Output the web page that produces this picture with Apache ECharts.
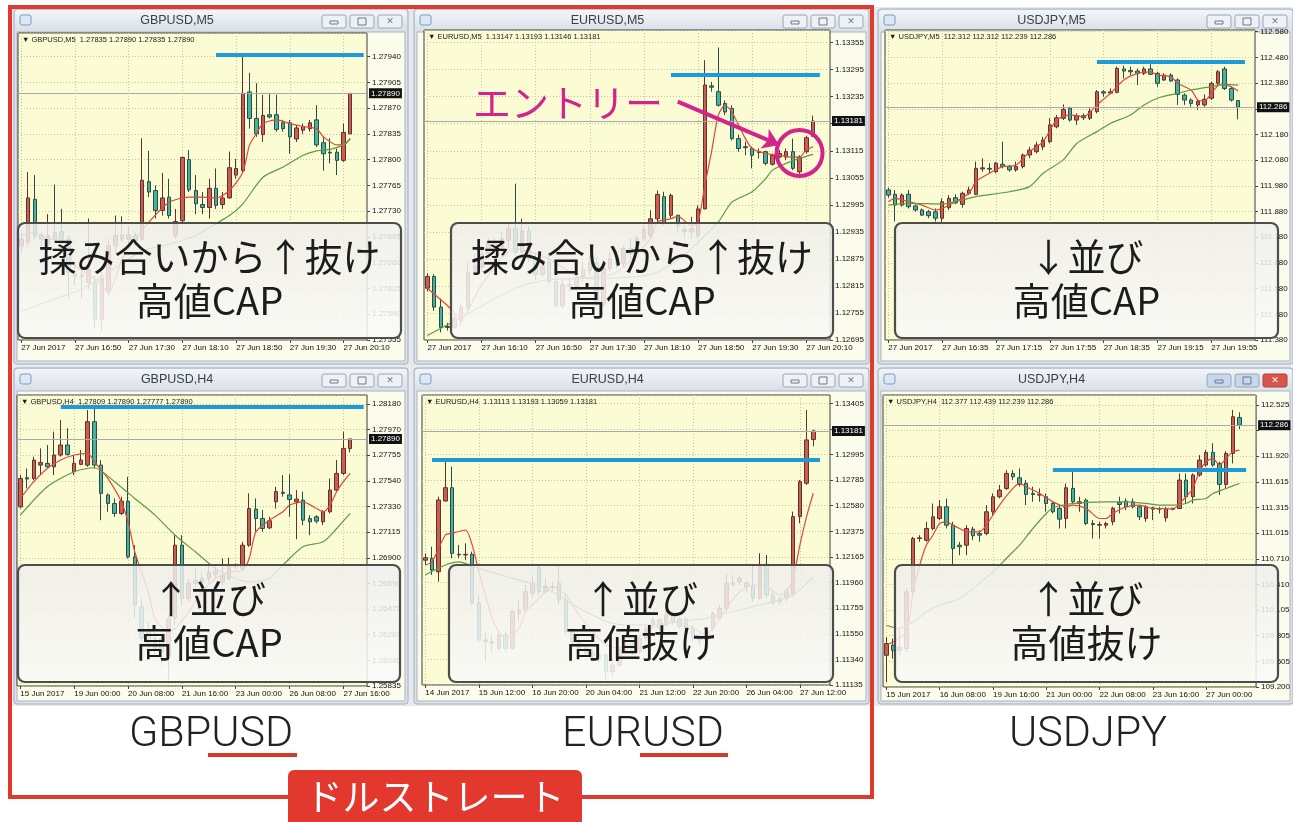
<!DOCTYPE html>
<html>
<head>
<meta charset="utf-8">
<title>ドルストレート</title>
<script src="https://cdn.jsdelivr.net/npm/echarts@6/dist/echarts.min.js"></script>
<style>
  html, body { margin: 0; padding: 0; background: #fff; }
  #chart { width: 1293px; height: 822px; }
</style>
</head>
<body>
<div id="chart"></div>
<script>
// ---------- data read off the six MT4 windows ----------
// candles are [open, close, low, high]; MA lines are [barIndex, value]

// GBPUSD M5
const gbpM5Ticks = ['1.27555', '1.27590', '1.27625', '1.27660', '1.27695', '1.27730', '1.27765', '1.27800', '1.27835', '1.27870', '1.27905', '1.27940'];
const gbpM5Times = ['27 Jun 2017', '27 Jun 16:50', '27 Jun 17:30', '27 Jun 18:10', '27 Jun 18:50', '27 Jun 19:30', '27 Jun 20:10'];
const gbpM5Candles = [
  [1.27683, 1.27692, 1.27674, 1.27701], [1.27688, 1.27748, 1.27683, 1.27783], [1.27746, 1.27697, 1.27692, 1.27779],
  [1.27697, 1.27692, 1.27683, 1.27701], [1.27684, 1.27697, 1.27679, 1.27726], [1.27701, 1.27692, 1.27687, 1.27766],
  [1.27702, 1.27692, 1.27683, 1.27733], [1.27692, 1.27647, 1.27611, 1.27697], [1.27645, 1.27641, 1.27629, 1.27656],
  [1.27641, 1.27643, 1.27611, 1.27651], [1.27633, 1.27651, 1.27624, 1.27720], [1.27633, 1.27583, 1.27572, 1.27642],
  [1.27583, 1.27638, 1.27567, 1.27647], [1.27620, 1.27683, 1.27615, 1.27692], [1.27683, 1.27697, 1.27674, 1.27724],
  [1.27698, 1.27692, 1.27688, 1.27723], [1.27692, 1.27698, 1.27683, 1.27710], [1.27697, 1.27690, 1.27683, 1.27701],
  [1.27692, 1.27772, 1.27690, 1.27829], [1.27770, 1.27756, 1.27749, 1.27812], [1.27758, 1.27731, 1.27720, 1.27765],
  [1.27731, 1.27748, 1.27724, 1.27782], [1.27749, 1.27724, 1.27720, 1.27774], [1.27697, 1.27716, 1.27692, 1.27733],
  [1.27717, 1.27803, 1.27715, 1.27804], [1.27800, 1.27759, 1.27756, 1.27813], [1.27758, 1.27740, 1.27726, 1.27779],
  [1.27739, 1.27735, 1.27726, 1.27756], [1.27735, 1.27761, 1.27720, 1.27774], [1.27761, 1.27738, 1.27733, 1.27788],
  [1.27739, 1.27748, 1.27733, 1.27756], [1.27748, 1.27789, 1.27747, 1.27811], [1.27779, 1.27788, 1.27774, 1.27801],
  [1.27785, 1.27890, 1.27783, 1.27940], [1.27892, 1.27856, 1.27842, 1.27918], [1.27856, 1.27835, 1.27831, 1.27904],
  [1.27834, 1.27860, 1.27824, 1.27888], [1.27861, 1.27858, 1.27856, 1.27889], [1.27861, 1.27841, 1.27838, 1.27888],
  [1.27850, 1.27842, 1.27838, 1.27854], [1.27850, 1.27831, 1.27808, 1.27854], [1.27828, 1.27843, 1.27824, 1.27847],
  [1.27840, 1.27845, 1.27835, 1.27849], [1.27842, 1.27850, 1.27838, 1.27854], [1.27854, 1.27820, 1.27817, 1.27874],
  [1.27823, 1.27808, 1.27785, 1.27831], [1.27810, 1.27809, 1.27795, 1.27829], [1.27810, 1.27799, 1.27779, 1.27815],
  [1.27799, 1.27837, 1.27797, 1.27849], [1.27835, 1.27890, 1.27835, 1.27890]
];
const gbpM5Fast = [[0, 1.27697], [2, 1.27701], [4, 1.27692], [6, 1.27692], [8, 1.27656], [11, 1.27638], [13, 1.27620], [14, 1.27638],
  [15, 1.27665], [17, 1.27692], [19, 1.27715], [22, 1.27742], [25, 1.27749], [27, 1.27749], [29, 1.27748], [31, 1.27758],
  [33, 1.27783], [34, 1.27820], [35, 1.27835], [36, 1.27849], [38, 1.27854], [40, 1.27849], [42, 1.27845], [44, 1.27842],
  [45, 1.27831], [47, 1.27820], [48, 1.27820], [49, 1.27829]];
const gbpM5Slow = [[0, 1.27594], [5, 1.27611], [9, 1.27624], [13, 1.27647], [18, 1.27676], [22, 1.27685], [26, 1.27697], [29, 1.27713],
  [31, 1.27724], [33, 1.27740], [36, 1.27776], [39, 1.27790], [42, 1.27806], [44, 1.27812], [46, 1.27814], [48, 1.27820], [49, 1.27828]];
const gbpM5Level = [29, 51, 1.27943];
const gbpM5Note = ['揉み合いから↑抜け', '高値CAP'];

// EURUSD M5
const eurM5Ticks = ['1.12695', '1.12755', '1.12815', '1.12875', '1.12935', '1.12995', '1.13055', '1.13115', '1.13175', '1.13235', '1.13295', '1.13355'];
const eurM5Times = ['27 Jun 2017', '27 Jun 16:10', '27 Jun 16:50', '27 Jun 17:30', '27 Jun 18:10', '27 Jun 18:50', '27 Jun 19:30', '27 Jun 20:10'];
const eurM5Candles = [
  [1.12810, 1.12836, 1.12803, 1.12843], [1.12836, 1.12768, 1.12760, 1.12841], [1.12768, 1.12723, 1.12712, 1.12787],
  [1.12725, 1.12723, 1.12716, 1.12733], [1.12723, 1.12742, 1.12719, 1.12753], [1.12738, 1.12768, 1.12727, 1.12775],
  [1.12768, 1.12846, 1.12760, 1.12868], [1.12846, 1.12860, 1.12840, 1.12886], [1.12857, 1.12886, 1.12846, 1.12905],
  [1.12886, 1.12911, 1.12875, 1.12920], [1.12911, 1.12901, 1.12890, 1.12923], [1.12901, 1.12920, 1.12894, 1.12935],
  [1.12916, 1.12943, 1.12898, 1.12957], [1.12943, 1.12890, 1.12883, 1.13042], [1.12890, 1.12937, 1.12886, 1.12964],
  [1.12937, 1.12875, 1.12868, 1.12946], [1.12875, 1.12840, 1.12829, 1.12886], [1.12840, 1.12860, 1.12836, 1.12875],
  [1.12868, 1.12825, 1.12818, 1.12890], [1.12825, 1.12771, 1.12768, 1.12836], [1.12771, 1.12818, 1.12764, 1.12833],
  [1.12818, 1.12814, 1.12803, 1.12833], [1.12814, 1.12833, 1.12810, 1.12846], [1.12836, 1.12852, 1.12825, 1.12868],
  [1.12849, 1.12866, 1.12840, 1.12883], [1.12866, 1.12775, 1.12771, 1.12879], [1.12775, 1.12853, 1.12768, 1.12860],
  [1.12853, 1.12875, 1.12846, 1.12890], [1.12875, 1.12864, 1.12853, 1.12894], [1.12864, 1.12898, 1.12857, 1.12905],
  [1.12898, 1.12886, 1.12875, 1.12920], [1.12886, 1.12920, 1.12879, 1.12927], [1.12920, 1.12940, 1.12916, 1.12949],
  [1.12927, 1.12964, 1.12920, 1.12983], [1.12964, 1.13018, 1.12957, 1.13027], [1.13013, 1.12953, 1.12949, 1.13024],
  [1.12972, 1.13016, 1.12964, 1.13020], [1.12972, 1.12949, 1.12935, 1.12972], [1.12940, 1.12936, 1.12923, 1.12949],
  [1.12942, 1.12935, 1.12920, 1.12968], [1.12927, 1.12986, 1.12920, 1.12994], [1.12986, 1.13261, 1.12985, 1.13316],
  [1.13259, 1.13256, 1.13246, 1.13268], [1.13246, 1.13216, 1.13213, 1.13344], [1.13220, 1.13201, 1.13194, 1.13227],
  [1.13209, 1.13142, 1.13138, 1.13216], [1.13142, 1.13120, 1.13113, 1.13151], [1.13124, 1.13122, 1.13105, 1.13135],
  [1.13120, 1.13105, 1.13076, 1.13124], [1.13113, 1.13111, 1.13098, 1.13120], [1.13113, 1.13087, 1.13083, 1.13115],
  [1.13085, 1.13105, 1.13082, 1.13109], [1.13101, 1.13109, 1.13098, 1.13117], [1.13101, 1.13113, 1.13094, 1.13120],
  [1.13113, 1.13076, 1.13072, 1.13142], [1.13068, 1.13101, 1.13064, 1.13105], [1.13113, 1.13144, 1.13109, 1.13148],
  [1.13147, 1.13181, 1.13146, 1.13193]
];
const eurM5Fast = [[0, 1.12810], [3, 1.12771], [5, 1.12742], [8, 1.12818], [13, 1.12898], [18, 1.12875], [23, 1.12833], [28, 1.12846],
  [33, 1.12920], [34, 1.12957], [36, 1.12964], [37, 1.12970], [39, 1.12949], [40, 1.12957], [41, 1.13038], [42, 1.13113],
  [43, 1.13194], [44, 1.13216], [45, 1.13201], [47, 1.13142], [48, 1.13120], [50, 1.13109], [52, 1.13105], [54, 1.13101],
  [55, 1.13101], [56, 1.13117], [57, 1.13124]];
const eurM5Slow = [[0, 1.12705], [5, 1.12745], [13, 1.12810], [18, 1.12829], [28, 1.12833], [33, 1.12840], [37, 1.12872], [40, 1.12912],
  [43, 1.12957], [45, 1.13001], [48, 1.13024], [50, 1.13053], [51, 1.13072], [53, 1.13087], [55, 1.13098], [57, 1.13107]];
const eurM5Level = [36, 58, 1.13284];
const eurM5Note = ['揉み合いから↑抜け', '高値CAP'];
const eurM5EntryText = 'エントリー';
const eurM5EntryArrow = [[37, 1.13224], [52, 1.13128]];
const eurM5EntryCircle = [55, 1.13110];

// USDJPY M5
const jpyM5Ticks = ['111.380', '111.480', '111.580', '111.680', '111.780', '111.880', '111.980', '112.080', '112.180', '112.280', '112.380', '112.480', '112.580'];
const jpyM5Times = ['27 Jun 2017', '27 Jun 16:35', '27 Jun 17:15', '27 Jun 17:55', '27 Jun 18:35', '27 Jun 19:15', '27 Jun 19:55'];
const jpyM5Candles = [
  [111.964, 111.944, 111.934, 111.973], [111.947, 111.905, 111.841, 111.964], [111.905, 111.944, 111.899, 111.951],
  [111.947, 111.899, 111.892, 111.964], [111.902, 111.886, 111.879, 111.908], [111.886, 111.866, 111.864, 111.892],
  [111.879, 111.864, 111.854, 111.886], [111.879, 111.854, 111.841, 111.892], [111.854, 111.918, 111.828, 111.931],
  [111.895, 111.931, 111.886, 111.944], [111.934, 111.914, 111.908, 111.947], [111.908, 111.951, 111.895, 111.957],
  [111.951, 111.964, 111.944, 111.977], [111.947, 112.048, 111.944, 112.074], [112.046, 112.050, 112.035, 112.087],
  [112.048, 112.045, 112.029, 112.068], [112.035, 112.068, 112.029, 112.074], [112.064, 112.056, 112.048, 112.152],
  [112.055, 112.042, 112.035, 112.061], [112.042, 112.055, 112.035, 112.074], [112.055, 112.100, 112.048, 112.106],
  [112.100, 112.119, 112.087, 112.132], [112.113, 112.139, 112.106, 112.152], [112.132, 112.158, 112.119, 112.171],
  [112.152, 112.217, 112.145, 112.243], [112.210, 112.245, 112.204, 112.256], [112.243, 112.278, 112.236, 112.297],
  [112.282, 112.236, 112.230, 112.288], [112.236, 112.253, 112.217, 112.262], [112.253, 112.245, 112.236, 112.262],
  [112.243, 112.271, 112.236, 112.282], [112.269, 112.346, 112.262, 112.353], [112.346, 112.341, 112.327, 112.353],
  [112.341, 112.346, 112.336, 112.359], [112.344, 112.437, 112.340, 112.444], [112.435, 112.427, 112.398, 112.448],
  [112.429, 112.424, 112.411, 112.444], [112.427, 112.418, 112.372, 112.437], [112.418, 112.435, 112.411, 112.444],
  [112.435, 112.414, 112.411, 112.453], [112.418, 112.379, 112.366, 112.424], [112.392, 112.411, 112.388, 112.418],
  [112.411, 112.388, 112.385, 112.418], [112.392, 112.336, 112.295, 112.398], [112.333, 112.314, 112.295, 112.340],
  [112.314, 112.301, 112.288, 112.321], [112.295, 112.308, 112.275, 112.314], [112.295, 112.317, 112.288, 112.336],
  [112.321, 112.379, 112.314, 112.385], [112.379, 112.424, 112.372, 112.431], [112.435, 112.359, 112.353, 112.444],
  [112.359, 112.314, 112.308, 112.366], [112.312, 112.286, 112.239, 112.312]
];
const jpyM5Fast = [[0, 111.918], [1, 111.931], [3, 111.918], [5, 111.905], [7, 111.886], [8, 111.892], [10, 111.918], [12, 111.951],
  [13, 111.996], [15, 112.029], [17, 112.055], [19, 112.061], [21, 112.113], [23, 112.152], [25, 112.236], [27, 112.256],
  [29, 112.249], [31, 112.295], [33, 112.340], [35, 112.392], [37, 112.418], [39, 112.424], [40, 112.411], [42, 112.405],
  [43, 112.379], [45, 112.353], [46, 112.314], [47, 112.310], [48, 112.340], [49, 112.370], [50, 112.375], [52, 112.349]];
const jpyM5Slow = [[0, 111.905], [3, 111.912], [8, 111.909], [11, 111.925], [13, 111.938], [18, 111.957], [21, 111.977], [23, 112.029],
  [26, 112.081], [28, 112.145], [31, 112.191], [33, 112.223], [36, 112.256], [38, 112.295], [40, 112.321], [43, 112.340],
  [45, 112.353], [48, 112.366], [50, 112.375], [52, 112.372]];
const jpyM5Level = [31, 53, 112.463];
const jpyM5Note = ['↓並び', '高値CAP'];

// GBPUSD H4
const gbpH4Ticks = ['1.25835', '1.26045', '1.26260', '1.26475', '1.26690', '1.26900', '1.27115', '1.27330', '1.27540', '1.27755', '1.27970', '1.28180'];
const gbpH4Times = ['15 Jun 2017', '19 Jun 00:00', '20 Jun 08:00', '21 Jun 16:00', '23 Jun 00:00', '26 Jun 08:00', '27 Jun 16:00'];
const gbpH4Candles = [
  [1.27325, 1.27561, 1.27311, 1.27589], [1.27567, 1.27556, 1.27479, 1.27644], [1.27561, 1.27714, 1.27547, 1.27742],
  [1.27672, 1.27694, 1.27589, 1.27811], [1.27686, 1.27658, 1.27650, 1.27839], [1.27658, 1.27756, 1.27589, 1.27950],
  [1.27756, 1.27839, 1.27742, 1.28047], [1.27839, 1.27761, 1.27751, 1.27978], [1.27617, 1.27686, 1.27589, 1.27756],
  [1.27678, 1.27714, 1.27672, 1.27797], [1.27672, 1.28033, 1.27658, 1.28130], [1.28033, 1.27672, 1.27644, 1.28158],
  [1.27672, 1.27437, 1.27214, 1.27714], [1.27424, 1.27353, 1.27284, 1.27437], [1.27353, 1.27270, 1.27242, 1.27395],
  [1.27270, 1.27372, 1.27256, 1.27409], [1.27372, 1.26909, 1.26895, 1.27575], [1.26909, 1.26507, 1.26397, 1.27006],
  [1.26493, 1.26232, 1.26204, 1.26562], [1.26287, 1.26177, 1.26090, 1.26369], [1.26146, 1.26232, 1.26063, 1.26287],
  [1.26232, 1.26118, 1.26007, 1.26259], [1.26090, 1.26397, 1.25882, 1.26424], [1.26397, 1.27006, 1.26342, 1.27089],
  [1.27006, 1.26562, 1.26507, 1.27089], [1.26562, 1.26687, 1.26534, 1.26729], [1.26715, 1.26687, 1.26659, 1.26812],
  [1.26701, 1.26729, 1.26673, 1.26770], [1.26729, 1.26779, 1.26701, 1.26853], [1.26790, 1.26762, 1.26729, 1.26826],
  [1.26701, 1.26756, 1.26673, 1.26895], [1.26729, 1.26840, 1.26715, 1.26901], [1.26840, 1.26826, 1.26806, 1.26853],
  [1.26812, 1.27006, 1.26798, 1.27034], [1.27006, 1.27311, 1.26993, 1.27437], [1.27306, 1.27228, 1.27117, 1.27395],
  [1.27228, 1.27145, 1.27117, 1.27298], [1.27150, 1.27209, 1.27139, 1.27242], [1.27367, 1.27452, 1.27311, 1.27492],
  [1.27446, 1.27437, 1.27409, 1.27589], [1.27424, 1.27386, 1.27242, 1.27595], [1.27367, 1.27389, 1.27056, 1.27464],
  [1.27381, 1.27214, 1.27173, 1.27452], [1.27228, 1.27200, 1.27089, 1.27256], [1.27242, 1.27206, 1.27187, 1.27256],
  [1.27200, 1.27284, 1.27173, 1.27298], [1.27284, 1.27464, 1.27270, 1.27561], [1.27464, 1.27603, 1.27452, 1.27714],
  [1.27603, 1.27811, 1.27589, 1.27950], [1.27809, 1.27890, 1.27777, 1.27890]
];
const gbpH4Fast = [[0, 1.27395], [2, 1.27534], [4, 1.27644], [6, 1.27714], [8, 1.27756], [10, 1.27769], [11, 1.27700], [13, 1.27561],
  [15, 1.27367], [16, 1.27200], [17, 1.26951], [19, 1.26618], [20, 1.26397], [22, 1.26287], [23, 1.26312], [25, 1.26451],
  [27, 1.26618], [29, 1.26729], [31, 1.26784], [33, 1.26798], [34, 1.26895], [35, 1.27117], [37, 1.27214], [39, 1.27284],
  [40, 1.27339], [42, 1.27367], [44, 1.27311], [45, 1.27284], [46, 1.27339], [47, 1.27452], [48, 1.27534], [49, 1.27603]];
const gbpH4Slow = [[0, 1.27256], [4, 1.27492], [8, 1.27617], [11, 1.27650], [14, 1.27534], [17, 1.27395], [20, 1.27256], [23, 1.27089],
  [26, 1.26951], [29, 1.26812], [32, 1.26729], [34, 1.26701], [37, 1.26729], [39, 1.26840], [42, 1.26993], [45, 1.27034],
  [47, 1.27145], [49, 1.27270]];
const gbpH4Level = [6, 51, 1.28155];
const gbpH4Note = ['↑並び', '高値CAP'];

// EURUSD H4
const eurH4Ticks = ['1.11135', '1.11340', '1.11550', '1.11755', '1.11960', '1.12165', '1.12375', '1.12580', '1.12785', '1.12995', '1.13200', '1.13405'];
const eurH4Times = ['14 Jun 2017', '15 Jun 12:00', '16 Jun 20:00', '20 Jun 04:00', '21 Jun 12:00', '22 Jun 20:00', '26 Jun 04:00', '27 Jun 12:00'];
const eurH4Candles = [
  [1.12141, 1.12161, 1.12102, 1.12196], [1.12156, 1.12062, 1.12022, 1.12250], [1.12048, 1.12626, 1.11968, 1.12653],
  [1.12618, 1.12725, 1.12613, 1.12935], [1.12725, 1.12196, 1.12156, 1.12895], [1.12188, 1.12183, 1.12156, 1.12264],
  [1.12183, 1.12188, 1.12141, 1.12277], [1.12188, 1.11794, 1.11780, 1.12210], [1.11794, 1.11498, 1.11485, 1.11860],
  [1.11498, 1.11485, 1.11323, 1.11566], [1.11471, 1.11485, 1.11404, 1.11538], [1.11431, 1.11538, 1.11418, 1.11566],
  [1.11538, 1.11431, 1.11404, 1.11566], [1.11431, 1.11726, 1.11418, 1.11740], [1.11713, 1.11740, 1.11646, 1.11820],
  [1.11740, 1.11887, 1.11726, 1.11941], [1.11874, 1.11955, 1.11834, 1.12008], [1.12081, 1.11887, 1.11860, 1.12102],
  [1.11887, 1.11928, 1.11874, 1.11995], [1.11928, 1.11920, 1.11887, 1.11968], [1.11955, 1.11820, 1.11780, 1.12102],
  [1.11820, 1.11566, 1.11538, 1.11860], [1.11566, 1.11485, 1.11458, 1.11592], [1.11485, 1.11431, 1.11404, 1.11525],
  [1.11431, 1.11391, 1.11364, 1.11458], [1.11391, 1.11377, 1.11337, 1.11418], [1.11377, 1.11350, 1.11323, 1.11404],
  [1.11377, 1.11243, 1.11176, 1.11391], [1.11243, 1.11296, 1.11202, 1.11350], [1.11296, 1.11418, 1.11283, 1.11444],
  [1.11418, 1.11458, 1.11391, 1.11485], [1.11458, 1.11404, 1.11377, 1.11485], [1.11404, 1.11512, 1.11391, 1.11538],
  [1.11512, 1.11592, 1.11485, 1.11619], [1.11619, 1.11659, 1.11592, 1.11686], [1.11659, 1.11592, 1.11566, 1.11672],
  [1.11619, 1.11699, 1.11605, 1.11726], [1.11699, 1.11646, 1.11619, 1.11713], [1.11605, 1.11667, 1.11592, 1.11686],
  [1.11667, 1.11592, 1.11566, 1.11686], [1.11592, 1.11512, 1.11485, 1.11619], [1.11512, 1.11498, 1.11458, 1.11553],
  [1.11498, 1.11566, 1.11485, 1.11592], [1.11592, 1.11713, 1.11566, 1.11726], [1.11672, 1.11753, 1.11659, 1.11780],
  [1.11753, 1.11955, 1.11726, 1.12035], [1.11955, 1.11946, 1.11928, 1.12022], [1.11968, 1.11995, 1.11941, 1.12022],
  [1.11955, 1.11928, 1.11887, 1.11968], [1.11928, 1.11834, 1.11807, 1.12102], [1.11834, 1.12102, 1.11820, 1.12196],
  [1.12107, 1.11860, 1.11834, 1.12183], [1.11860, 1.11794, 1.11780, 1.11887], [1.11834, 1.11807, 1.11780, 1.11847],
  [1.11834, 1.11887, 1.11807, 1.11914], [1.11860, 1.12492, 1.11847, 1.12532], [1.12492, 1.12774, 1.12438, 1.12787],
  [1.12761, 1.13110, 1.12747, 1.13351], [1.13113, 1.13181, 1.13059, 1.13193]
];
const eurH4Fast = [[0, 1.12102], [1, 1.12128], [3, 1.12344], [4, 1.12357], [6, 1.12384], [7, 1.12264], [8, 1.12048], [10, 1.11672],
  [11, 1.11566], [12, 1.11512], [14, 1.11592], [15, 1.11726], [17, 1.11834], [19, 1.11928], [21, 1.11860], [23, 1.11699],
  [25, 1.11566], [27, 1.11458], [29, 1.11431], [31, 1.11485], [33, 1.11566], [35, 1.11619], [37, 1.11646], [39, 1.11619],
  [41, 1.11566], [42, 1.11538], [43, 1.11592], [45, 1.11753], [47, 1.11887], [49, 1.11941], [51, 1.11928], [53, 1.11860],
  [54, 1.11887], [55, 1.11995], [56, 1.12264], [57, 1.12492], [58, 1.12680]];
const eurH4Slow = [[0, 1.12022], [3, 1.12102], [5, 1.12128], [8, 1.12075], [13, 1.11995], [18, 1.11914], [23, 1.11753], [26, 1.11672],
  [28, 1.11632], [31, 1.11619], [34, 1.11619], [38, 1.11646], [42, 1.11672], [45, 1.11713], [48, 1.11753], [50, 1.11780],
  [52, 1.11807], [55, 1.11860], [58, 1.12008]];
const eurH4Level = [1, 59, 1.12954];
const eurH4Note = ['↑並び', '高値抜け'];

// USDJPY H4
const jpyH4Ticks = ['109.200', '109.505', '109.805', '110.105', '110.410', '110.710', '111.015', '111.315', '111.615', '111.920', '112.220', '112.525'];
const jpyH4Times = ['15 Jun 2017', '16 Jun 08:00', '19 Jun 16:00', '21 Jun 00:00', '22 Jun 08:00', '23 Jun 16:00', '27 Jun 00:00'];
const jpyH4Candles = [
  [109.574, 109.712, 109.259, 109.790], [109.692, 109.633, 109.535, 109.771], [109.633, 109.672, 109.574, 109.889],
  [109.653, 110.322, 109.613, 110.361], [110.322, 110.951, 110.302, 110.971], [110.951, 110.959, 110.912, 110.990],
  [110.931, 111.069, 110.912, 111.148], [111.069, 111.207, 111.049, 111.364], [111.187, 111.325, 111.168, 111.404],
  [111.325, 111.108, 111.069, 111.423], [111.108, 110.833, 110.636, 111.148], [110.872, 110.853, 110.754, 110.912],
  [110.872, 111.069, 110.754, 111.108], [111.061, 110.983, 110.931, 111.089], [111.010, 110.990, 110.912, 111.049],
  [111.010, 111.266, 110.990, 111.345], [111.266, 111.443, 111.227, 111.482], [111.443, 111.522, 111.423, 111.581],
  [111.541, 111.718, 111.522, 111.758], [111.718, 111.679, 111.640, 111.758], [111.667, 111.589, 111.561, 111.777],
  [111.600, 111.471, 111.345, 111.640], [111.482, 111.471, 111.384, 111.561], [111.463, 111.471, 111.384, 111.541],
  [111.443, 111.364, 111.266, 111.482], [111.364, 111.266, 111.246, 111.384], [111.305, 111.179, 111.069, 111.345],
  [111.187, 111.549, 111.069, 111.600], [111.541, 111.384, 111.364, 111.746], [111.364, 111.384, 111.266, 111.443],
  [111.404, 111.128, 111.108, 111.423], [111.128, 111.116, 110.951, 111.168], [111.108, 111.116, 110.951, 111.148],
  [111.108, 111.128, 111.069, 111.148], [111.148, 111.305, 111.108, 111.325], [111.376, 111.352, 111.246, 111.443],
  [111.392, 111.325, 111.286, 111.423], [111.384, 111.325, 111.305, 111.423], [111.325, 111.207, 111.168, 111.345],
  [111.187, 111.325, 111.148, 111.345], [111.313, 111.297, 111.168, 111.325], [111.305, 111.297, 111.246, 111.325],
  [111.195, 111.305, 111.148, 111.325], [111.297, 111.305, 111.282, 111.313], [111.305, 111.640, 111.297, 111.718],
  [111.640, 111.443, 111.364, 111.718], [111.443, 111.699, 111.364, 111.718], [111.699, 111.876, 111.679, 111.935],
  [111.817, 111.966, 111.797, 111.994], [111.966, 111.817, 111.797, 112.073], [111.836, 111.589, 111.463, 111.856],
  [111.589, 111.954, 111.541, 111.982], [111.954, 112.387, 111.836, 112.466], [112.377, 112.286, 112.239, 112.439]
];
const jpyH4Fast = [[0, 109.692], [3, 109.849], [4, 110.322], [5, 110.636], [6, 110.872], [7, 110.990], [8, 111.128], [9, 111.148],
  [10, 111.108], [11, 111.069], [12, 111.030], [14, 111.030], [15, 111.108], [17, 111.345], [19, 111.541], [20, 111.600],
  [21, 111.561], [23, 111.482], [25, 111.384], [27, 111.325], [28, 111.345], [30, 111.305], [32, 111.187], [33, 111.187],
  [34, 111.246], [36, 111.325], [38, 111.345], [40, 111.305], [42, 111.305], [43, 111.297], [44, 111.364], [45, 111.443],
  [46, 111.541], [47, 111.738], [48, 111.856], [49, 111.895], [50, 111.817], [51, 111.895], [52, 111.974], [53, 111.994]];
const jpyH4Slow = [[0, 109.928], [2, 109.889], [4, 109.967], [6, 110.085], [8, 110.164], [11, 110.243], [13, 110.361], [16, 110.558],
  [18, 110.715], [20, 110.872], [22, 111.069], [24, 111.246], [25, 111.313], [27, 111.352], [30, 111.376], [33, 111.384],
  [36, 111.384], [39, 111.364], [41, 111.345], [43, 111.345], [45, 111.364], [46, 111.404], [48, 111.423], [49, 111.482],
  [51, 111.541], [53, 111.600]];
const jpyH4Level = [25, 54, 111.764];
const jpyH4Note = ['↑並び', '高値抜け'];

// bottom captions
const pairNames = ['GBPUSD', 'EURUSD', 'USDJPY'];
const groupLabel = 'ドルストレート';

// ---------- layout ----------
const SMALL = '"Liberation Sans", "DejaVu Sans", sans-serif';
const JP = '"Noto Sans CJK JP", sans-serif';
const PLOT_BG = '#fbfbd4';
const GRID_LINE = '#c3c3a8';
const MAGENTA = '#d4248c';

const panels = [
  { sym: 'GBPUSD', tf: 'M5', digits: 5, ticks: gbpM5Ticks, yMax: 1.27972, times: gbpM5Times, slots: 52,
    candles: gbpM5Candles, fast: gbpM5Fast, slow: gbpM5Slow, level: gbpM5Level, note: gbpM5Note,
    win: [14, 9, 394, 355], grid: [18, 33, 349, 307], box: [18, 223, 383, 115] },
  { sym: 'EURUSD', tf: 'M5', digits: 5, ticks: eurM5Ticks, yMax: 1.13383, times: eurM5Times, slots: 60,
    candles: eurM5Candles, fast: eurM5Fast, slow: eurM5Slow, level: eurM5Level, note: eurM5Note, entry: true,
    win: [414, 9, 455, 355], grid: [424, 30, 406, 310], box: [451, 223, 382, 115] },
  { sym: 'USDJPY', tf: 'M5', digits: 3, ticks: jpyM5Ticks, yMax: 112.5866, times: jpyM5Times, slots: 55,
    candles: jpyM5Candles, fast: jpyM5Fast, slow: jpyM5Slow, level: jpyM5Level, note: jpyM5Note,
    win: [878, 9, 415, 355], grid: [885, 30, 370, 310], box: [895, 223, 383, 115] },
  { sym: 'GBPUSD', tf: 'H4', digits: 5, ticks: gbpH4Ticks, yMax: 1.28255, times: gbpH4Times, slots: 52,
    candles: gbpH4Candles, fast: gbpH4Fast, slow: gbpH4Slow, level: gbpH4Level, note: gbpH4Note,
    win: [14, 368, 394, 336], grid: [17, 395, 350, 291], box: [18, 565, 382, 117] },
  { sym: 'EURUSD', tf: 'H4', digits: 5, ticks: eurH4Ticks, yMax: 1.13472, times: eurH4Times, slots: 61,
    candles: eurH4Candles, fast: eurH4Fast, slow: eurH4Slow, level: eurH4Level, note: eurH4Note,
    win: [414, 368, 455, 336], grid: [422, 395, 408, 290], box: [449, 565, 384, 117] },
  { sym: 'USDJPY', tf: 'H4', digits: 3, ticks: jpyH4Ticks, yMax: 112.643, times: jpyH4Times, slots: 56,
    candles: jpyH4Candles, fast: jpyH4Fast, slow: jpyH4Slow, level: jpyH4Level, note: jpyH4Note, active: true,
    win: [878, 368, 415, 336], grid: [883, 395, 374, 292], box: [895, 565, 383, 117] }
];

function windowFrame(p) {
  const [x, y, w, h] = p.win;
  const els = [
    { type: 'rect', z: -20, shape: { x: x, y: y, width: w, height: h, r: 3 }, style: { fill: '#dde3ea', stroke: '#a3adb9', lineWidth: 1 } },
    { type: 'rect', z: -19, shape: { x: x + 1, y: y + 1, width: w - 2, height: 22, r: [3, 3, 0, 0] },
      style: { fill: { type: 'linear', x: 0, y: 0, x2: 0, y2: 1, colorStops: [{ offset: 0, color: '#f2f5f8' }, { offset: 1, color: '#d8dfe7' }] } } },
    { type: 'rect', z: -18, shape: { x: x + 3, y: y + 23, width: w - 6, height: h - 26 }, style: { fill: '#fcfcec', stroke: '#aab3be', lineWidth: 1 } },
    { type: 'rect', z: -17, shape: { x: x + 6, y: y + 6, width: 11, height: 10, r: 2 }, style: { fill: '#dce8f5', stroke: '#7d9cc0', lineWidth: 1 } },
    { type: 'text', z: -17, style: { text: p.sym + ',' + p.tf, x: x + w / 2 - 34, y: y + 12, align: 'center', verticalAlign: 'middle',
      fontSize: 12.5, fontFamily: SMALL, fill: '#3b4048' } }
  ];
  for (let b = 0; b < 3; b++) {
    const bx = x + w - 30 - (2 - b) * 28;
    const by = y + 6;
    const red = p.active && b === 2;
    const blue = p.active && b < 2;
    els.push({ type: 'rect', z: -17, shape: { x: bx, y: by, width: 24, height: 13, r: 2 },
      style: { fill: red ? '#d9544a' : blue ? '#c6d8ec' : '#eef1f5', stroke: red ? '#a8453c' : '#9aa6b4', lineWidth: 1 } });
    if (b === 0) {
      els.push({ type: 'rect', z: -16, shape: { x: bx + 8, y: by + 6, width: 8, height: 3 }, style: { fill: 'none', stroke: '#6d7a89', lineWidth: 1 } });
    } else if (b === 1) {
      els.push({ type: 'rect', z: -16, shape: { x: bx + 8, y: by + 3, width: 8, height: 7 }, style: { fill: 'none', stroke: '#6d7a89', lineWidth: 1 } });
    } else {
      els.push({ type: 'text', z: -16, style: { text: '✕', x: bx + 12, y: by + 7, align: 'center', verticalAlign: 'middle',
        fontSize: 9, fontFamily: SMALL, fill: red ? '#ffffff' : '#6d7a89' } });
    }
  }
  return els;
}

const chart = echarts.init(document.getElementById('chart'));
const grids = [], xAxes = [], yAxes = [], series = [];
const graphics = [
  { type: 'rect', z: -30, shape: { x: 10, y: 7, width: 1283, height: 699 }, style: { fill: '#e6e9ed' } }
];

panels.forEach((p, i) => {
  const [gx, gy, gw, gh] = p.grid;
  const lo = parseFloat(p.ticks[0]);
  const step = (parseFloat(p.ticks[p.ticks.length - 1]) - lo) / (p.ticks.length - 1);
  const last = p.candles[p.candles.length - 1];
  const bid = last[1];
  const everyEighth = k => k % 8 === 0;

  graphics.push(...windowFrame(p));

  grids.push({ left: gx, top: gy, width: gw, height: gh, show: true, backgroundColor: PLOT_BG, borderColor: '#3c3c3c', borderWidth: 1 });

  xAxes.push({
    type: 'category', gridIndex: i, boundaryGap: true,
    data: Array.from({ length: p.slots }, (_, k) => String(k)),
    axisLine: { show: false },
    axisTick: { show: true, interval: everyEighth, alignWithLabel: true, length: 3, lineStyle: { color: '#444' } },
    axisLabel: { interval: everyEighth, formatter: (v, k) => p.times[k / 8] || '', align: 'left',
      fontSize: 8, fontFamily: SMALL, color: '#111', margin: 4 },
    splitLine: { show: true, interval: everyEighth, alignWithLabel: true, lineStyle: { color: GRID_LINE, type: [1, 2] } }
  });

  yAxes.push({
    type: 'value', gridIndex: i, position: 'right', scale: true,
    min: lo, max: p.yMax, interval: step,
    axisLine: { show: false },
    axisTick: { show: true, length: 3, lineStyle: { color: '#444' } },
    axisLabel: {
      fontSize: 8, fontFamily: SMALL, color: '#111', margin: 5, showMaxLabel: false,
      formatter: v => {
        const k = Math.round((v - lo) / step);
        if (Math.abs(lo + k * step - v) > step / 100) return '';
        if (Math.abs(v - bid) < step * 0.3) return '';
        return p.ticks[k] || '';
      }
    },
    splitLine: { show: true, lineStyle: { color: GRID_LINE, type: [1, 2] } }
  });

  const markData = [
    [{ coord: [p.level[0], p.level[2]], lineStyle: { color: '#1d9ad8', width: 4, type: 'solid' } }, { coord: [p.level[1], p.level[2]] }],
    { yAxis: bid, lineStyle: { color: '#a9a9a9', width: 1, type: 'solid' },
      label: { show: true, position: 'end', distance: 2, formatter: bid.toFixed(p.digits), backgroundColor: '#111',
        color: '#fff', fontSize: 8, fontFamily: SMALL, padding: [1, 2] } }
  ];
  const candle = {
    type: 'candlestick', xAxisIndex: i, yAxisIndex: i, data: p.candles, barWidth: 4, silent: true,
    itemStyle: { color: '#cf5c51', color0: '#41b5a0', borderColor: '#5b3330', borderColor0: '#2f4a46', borderWidth: 1 },
    markLine: { symbol: 'none', silent: true, animation: false, precision: p.digits, label: { show: false }, data: markData }
  };
  if (p.entry) {
    markData.push([
      { coord: eurM5EntryArrow[0], symbol: 'none', lineStyle: { color: MAGENTA, width: 4, type: 'solid' } },
      { coord: eurM5EntryArrow[1], symbol: 'arrow', symbolSize: 16 }
    ]);
    candle.markPoint = {
      silent: true, animation: false, precision: p.digits,
      data: [{ coord: eurM5EntryCircle, symbol: 'circle', symbolSize: 46, label: { show: false },
        itemStyle: { color: 'rgba(0,0,0,0)', borderColor: MAGENTA, borderWidth: 4 } }]
    };
    graphics.push({ type: 'text', z: 60, style: { text: eurM5EntryText, x: 568, y: 103, align: 'center', verticalAlign: 'middle',
      fontSize: 38, fontFamily: JP, fill: MAGENTA } });
  }
  series.push(candle);
  series.push({ type: 'line', xAxisIndex: i, yAxisIndex: i, data: p.fast, symbol: 'none', smooth: 0.25, silent: true, z: 3,
    lineStyle: { color: '#e2473b', width: 1.2 } });
  series.push({ type: 'line', xAxisIndex: i, yAxisIndex: i, data: p.slow, symbol: 'none', smooth: 0.25, silent: true, z: 3,
    lineStyle: { color: '#5f9b43', width: 1.2 } });

  // OHLC header inside the plot
  graphics.push({ type: 'text', z: 10, style: {
    text: '▼ ' + p.sym + ',' + p.tf + '  ' + [last[0], last[3], last[2], last[1]].map(v => v.toFixed(p.digits)).join(' '),
    x: gx + 4, y: gy + 7, verticalAlign: 'middle', fontSize: 7.5, fontFamily: SMALL, fill: '#1a1a1a' } });

  // caption box over the lower part of the chart
  const [bx, by, bw, bh] = p.box;
  graphics.push({ type: 'rect', z: 100, shape: { x: bx, y: by, width: bw, height: bh, r: 7 },
    style: { fill: { type: 'linear', x: 0, y: 0, x2: 0, y2: 1, colorStops: [{ offset: 0, color: 'rgba(238,238,236,0.84)' }, { offset: 1, color: 'rgba(250,250,250,0.86)' }] },
      stroke: '#4d4d4d', lineWidth: 2.2 } });
  p.note.forEach((line, n) => {
    graphics.push({ type: 'text', z: 101, style: { text: line, x: bx + bw / 2, y: by + (n === 0 ? 34 : 78), align: 'center', verticalAlign: 'middle',
      fontSize: 38, fontFamily: JP, fill: '#1c1c1c' } });
  });
});

// pair captions, red grouping frame and its label
const captionX = [211, 643, 1088];
pairNames.forEach((name, i) => {
  graphics.push({ type: 'text', z: 10, style: { text: name, x: captionX[i], y: 735, align: 'center', verticalAlign: 'middle',
    fontSize: 43, fontWeight: 300, fontFamily: 'Roboto, "Liberation Sans", sans-serif', fill: '#222' } });
});
graphics.push({ type: 'rect', z: 11, shape: { x: 208, y: 753, width: 89, height: 4 }, style: { fill: '#d8372c' } });
graphics.push({ type: 'rect', z: 11, shape: { x: 640, y: 753, width: 88, height: 4 }, style: { fill: '#d8372c' } });
graphics.push({ type: 'rect', z: 120, shape: { x: 10, y: 7, width: 862, height: 790 }, style: { fill: 'none', stroke: '#e0392e', lineWidth: 4 } });
graphics.push({ type: 'rect', z: 121, shape: { x: 288, y: 770, width: 294, height: 60, r: [6, 6, 0, 0] }, style: { fill: '#e2382d' } });
graphics.push({ type: 'text', z: 122, style: { text: groupLabel, x: 435, y: 797, align: 'center', verticalAlign: 'middle',
  fontSize: 37, fontFamily: JP, fill: '#ffffff' } });

chart.setOption({
  animation: false,
  textStyle: { fontFamily: SMALL },
  grid: grids,
  xAxis: xAxes,
  yAxis: yAxes,
  series: series,
  graphic: { elements: graphics }
});
</script>
</body>
</html>
